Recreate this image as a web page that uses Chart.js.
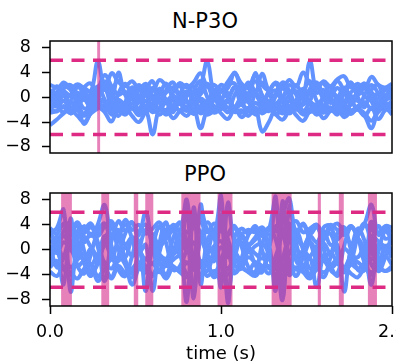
<!DOCTYPE html>
<html>
<head>
<meta charset="utf-8">
<script src="https://cdn.jsdelivr.net/npm/chart.js@4.4.0/dist/chart.umd.min.js"></script>
<style>
    body { margin: 0; width: 396px; height: 362px; overflow: hidden; background: #fff; position: relative; font-family: "DejaVu Sans", sans-serif; }
    canvas { position: absolute; left: 0; }
    #topo { top: 0; }
    #baixo { top: 160px; }
    .titulo { position: absolute; left: 105px; width: 200px; text-align: center; font-size: 21px; line-height: 21px; color: #000; }
</style>
</head>
<body>
<div class="titulo" style="top:11px">N-P3O</div>
<canvas id="topo" width="396" height="160"></canvas>
<div class="titulo" style="top:164px">PPO</div>
<canvas id="baixo" width="396" height="210"></canvas>
<script>
const tempos = [0, 0.04, 0.08, 0.12, 0.16, 0.2, 0.24, 0.28, 0.32, 0.36, 0.4,
    0.44, 0.48, 0.52, 0.56, 0.6, 0.64, 0.68, 0.72, 0.76, 0.8,
    0.84, 0.88, 0.92, 0.96, 1, 1.04, 1.08, 1.12, 1.16, 1.2,
    1.24, 1.28, 1.32, 1.36, 1.4, 1.44, 1.48, 1.52, 1.56, 1.6,
    1.64, 1.68, 1.72, 1.76, 1.8, 1.84, 1.88, 1.92, 1.96, 2];

const ticksX = [0, 1, 2];
const ticksY = [-8, -4, 0, 4, 8];
const limite = 6;
const intervaloX = [0, 2];

// N-P3O
const np3o1 = [2.0, 1.6, 1.9, 1.4, 2.1, 1.5, 1.0, 5.8, 1.2, 3.9, 2.5,
    1.8, 2.6, 1.4, 2.2, 1.0, 2.8, 1.9, 1.2, 2.3, 1.6,
    2.4, 3.9, 1.8, 2.0, 1.1, 2.5, 3.8, 2.2, 1.5, 3.6,
    2.0, 1.2, 2.4, 1.6, 2.8, 1.7, 4.0, 2.2, 1.4, 2.6,
    1.8, 2.9, 3.4, 1.6, 2.2, 1.4, 3.3, 2.0, 1.6, 2.2];
const np3o2 = [1.2, 0.6, 1.0, 0.2, 0.8, -0.2, 0.5, 1.4, 3.6, 1.8, 0.4,
    0.9, -0.3, 1.1, 0.3, 1.5, -0.2, 0.8, 1.6, 0.2, 1.0,
    0.4, 1.8, 5.8, 0.6, 1.3, 0.0, 1.6, 0.8, 2.2, 0.4,
    3.8, 1.0, 0.2, 1.4, 0.6, 2.0, 0.3, 5.8, 0.8, 1.2,
    0.2, 1.5, 0.6, 2.3, 0.4, 1.6, 0.8, -0.2, 1.2, 1.5];
const np3o3 = [0.5, 0.0, -0.6, 0.4, -0.2, 0.9, -0.4, 0.6, 2.0, -0.5, 4.0,
    0.5, 1.2, -0.8, 0.6, -0.3, 1.0, -0.5, 0.3, -0.9, 0.7,
    -0.2, 0.5, 1.8, -0.4, 0.9, 1.5, 4.0, 1.2, 0.0, 0.8,
    -0.6, 0.5, 1.1, -0.5, 0.3, 1.0, -0.2, 0.6, 2.2, -0.3,
    0.9, 0.1, -0.6, 0.8, 1.6, 0.2, -0.5, 0.7, 0.0, 0.8];
const np3o4 = [-0.3, -0.8, 0.2, -1.0, -0.4, 0.3, -1.2, -0.2, -0.9, -2.5, -0.4,
    -1.1, 0.2, -0.6, -1.4, 0.0, -0.9, -0.3, -1.3, 0.1, -0.7,
    -1.2, -0.2, -0.8, 0.4, -1.0, -0.5, -1.5, 0.0, -0.7, 3.9,
    0.2, -0.6, -1.0, -0.1, -1.4, -0.4, 0.3, -0.8, -1.2, -0.2,
    -0.9, -0.3, -1.1, 0.2, -0.6, -1.0, -0.1, -0.8, -0.4, 0.0];
const np3o5 = [-1.0, -1.5, -0.6, -1.8, -1.2, -0.4, -1.6, -0.8, -2.0, -1.2, -0.5,
    -2.2, -1.0, -1.8, -0.6, -1.4, -2.0, -0.8, -1.6, -1.1, -2.2,
    -0.9, -1.5, -0.6, -2.0, -1.3, -0.7, -1.8, -1.2, -2.3, -0.9,
    -1.6, -1.0, -2.0, -1.4, -0.6, -1.8, -1.2, -0.7, -1.9, -1.3,
    -0.6, -1.7, -1.1, -2.1, -1.4, -0.8, -1.9, -1.0, -1.6, -0.8];
const np3o6 = [-1.8, -2.3, -1.4, -2.6, -1.9, -3.0, -2.0, -1.2, -2.4, -3.9, -1.6,
    -2.5, -1.8, -2.9, -1.5, -2.4, -1.9, -2.8, -1.6, -2.2, -3.0,
    -1.8, -5.0, -2.0, -1.4, -2.6, -3.5, -1.9, -2.5, -1.7, -2.8,
    -2.0, -1.5, -2.7, -2.1, -1.6, -2.9, -3.8, -2.2, -1.6, -2.5,
    -1.9, -2.8, -1.4, -2.4, -2.0, -3.0, -1.7, -3.5, -2.1, -1.5];
const np3o7 = [-2.5, -2.2, -1.6, -2.6, -2.0, -4.3, -2.4, -1.6, -2.2, -1.4, -2.0,
    -2.8, -1.6, -2.4, -2.0, -6.0, -1.8, -2.6, -1.4, -2.2, -1.8,
    -2.7, -2.0, -1.4, -2.5, -1.9, -1.6, -2.4, -2.1, -3.0, -1.7,
    -5.5, -4.0, -1.9, -2.6, -2.0, -1.6, -2.6, -1.9, -2.8, -2.0,
    -1.6, -2.4, -2.0, -2.7, -1.8, -3.0, -5.0, -2.2, -1.7, -2.8];
const np3o8 = [-4.5, -3.6, -2.6, -2.0, -3.0, -4.0, -2.6, -1.8, -1.4, -2.8, -2.2,
    -1.6, -3.0, -4.0, -2.4, -1.8, -2.8, -2.0, -3.4, -2.2, -1.5,
    -2.6, -2.0, -2.8, -2.2, -1.6, -2.4, -1.8, -3.2, -2.2, -1.7,
    -2.6, -2.0, -2.8, -3.6, -2.2, -1.8, -2.8, -2.4, -2.0, -3.4,
    -2.2, -1.7, -3.2, -2.3, -1.9, -2.6, -3.8, -2.2, -1.8, -2.4];
const np3o9 = [0.0, 1.8, 0.6, -1.6, -0.4, 1.6, 2.2, 0.2, -2.2, 0.8, 2.6,
    0.4, -1.8, -0.6, 1.8, 0.2, -2.0, 1.2, 2.4, -0.4, -1.8,
    1.0, 2.6, 0.0, -2.2, -0.8, 1.8, 2.2, -0.6, -2.0, 0.6,
    2.4, 0.8, -1.6, -0.2, 2.0, 0.4, -2.2, -0.6, 1.8, 2.2,
    0.2, -2.0, 0.8, 2.4, 0.0, -1.6, 1.2, 2.0, -0.8, -1.2];
const np3o10 = [-2.0, -0.4, 1.4, 2.0, 0.2, -1.8, -1.0, 0.8, 2.6, 1.0, -1.4,
    -2.0, 0.4, 2.0, 0.6, -1.6, 0.4, 2.2, -0.4, -2.2, 0.2,
    1.8, -0.6, -2.4, -0.2, 2.0, 0.6, -1.8, 0.2, 2.4, 0.8,
    -1.4, -2.2, 0.6, 2.2, 0.0, -2.0, -0.8, 1.4, 2.4, 0.0,
    -2.2, -0.4, 1.6, -0.2, -2.0, 0.4, 2.0, 0.6, -1.4, -0.6];
const np3o11 = [1.0, -1.2, -2.4, -0.6, 1.6, 0.4, -2.0, -0.2, 1.4, -1.6, -3.0,
    -0.8, 1.6, 0.2, -2.2, -1.0, 1.4, -0.6, -2.4, 0.6, 2.0,
    -0.4, -2.6, -1.0, 1.2, -0.2, -2.4, 0.4, 1.8, -0.6, -2.6,
    -1.2, 1.0, 2.2, -0.4, -2.6, -0.8, 1.4, -1.0, -2.6, 0.2,
    1.6, -0.8, -2.6, -1.0, 1.0, 2.2, -0.6, -2.4, 0.2, 1.2];
const np3o12 = [-0.8, 0.8, 2.4, 1.2, -1.0, -2.6, -0.6, 1.8, -0.4, -2.4, 0.6,
    2.2, 0.0, -2.0, 1.0, 2.6, -0.8, -2.2, 0.8, 1.8, -0.6,
    -2.0, 0.8, 2.2, 0.2, -1.8, -0.4, 1.6, -1.2, 0.6, 2.6,
    0.4, -1.8, 0.2, 2.4, 1.0, -1.4, 0.8, 2.6, -0.6, -1.8,
    0.6, 2.6, 1.0, -1.2, 0.6, 2.2, -0.2, -1.6, 1.4, -0.2];

// PPO
const ppo1 = [2.8, 3.5, 6.4, -6.7, 1.5, 3.8, 2.2, 4.1, 7.2, 2.0, 4.6,
    3.0, 4.4, 2.4, 6.0, 1.8, 3.6, 2.2, 4.0, 3.0, 8.0,
    -2.0, 6.5, 3.2, 2.4, 8.7, -8.5, 2.0, 3.4, 2.6, 3.8,
    2.2, 3.2, 8.5, -7.5, 7.0, 2.8, 4.2, 2.5, 3.6, 2.0,
    4.0, 3.2, 2.4, 3.8, 2.6, 4.2, 7.2, 2.4, 3.5, 2.8];
const ppo2 = [1.5, 0.8, 2.2, 1.0, 3.0, 1.2, 2.6, 0.4, -5.0, 1.4, 3.2,
    0.8, 2.0, 1.2, -6.6, 2.4, 0.6, 1.8, 3.0, 1.0, -8.3,
    6.8, -5.5, 1.6, 2.6, -6.0, 7.5, 1.2, 2.0, 0.8, 1.6,
    2.8, 1.0, -6.5, 7.8, -4.0, 1.6, 0.6, 2.2, 1.2, 3.0,
    0.8, 1.6, 2.6, 1.0, 1.8, 0.4, 2.2, 1.4, 0.6, 1.2];
const ppo3 = [0.5, -0.5, 1.2, 0.0, -1.0, 2.0, 0.4, -0.8, 1.0, 4.2, 0.0,
    -1.2, 1.5, -0.4, 0.8, -6.6, 1.0, 4.4, -0.6, 0.8, 1.5,
    -6.8, 2.0, -0.5, 0.6, 1.4, -0.8, 0.2, 1.2, -0.4, 0.6,
    1.0, -0.6, -3.0, 5.0, 8.2, 0.4, -0.8, 1.2, 0.0, 1.0,
    -0.5, 0.8, -6.7, 0.2, 1.4, -0.6, -5.6, 0.8, -0.2, 0.4];
const ppo4 = [-0.2, 0.6, -1.2, 0.4, -0.6, -1.5, 0.2, -2.0, 0.8, -0.8, -1.8,
    0.4, -1.0, -0.2, -1.6, 0.6, -0.8, -1.4, 0.2, -0.6, 6.8,
    -7.8, 7.2, -0.8, -1.6, 0.4, -1.2, -0.4, -1.8, 0.2, -0.6,
    -1.4, 0.0, 7.5, -6.0, 2.0, -1.2, -0.2, -1.0, 0.6, -1.4,
    -0.4, -1.8, 0.2, -0.8, -1.2, 0.4, -0.6, -1.6, 0.0, -1.2];
const ppo5 = [-1.5, -2.2, -0.8, -2.8, -1.6, -0.6, -2.4, -1.0, -2.0, -3.0, -1.2,
    -2.4, -5.6, -2.8, -1.4, -2.2, -0.8, -2.6, -1.6, -1.0, -2.2,
    -1.4, -2.8, -1.0, -1.8, 5.5, -7.0, -1.6, -2.4, -1.2, -2.0,
    -2.8, -1.4, -2.0, -8.0, 4.0, -1.8, -2.6, -1.2, -6.0, -1.0,
    -2.4, -1.6, -2.8, -1.2, -2.0, -2.6, -1.4, -2.2, -1.0, -2.4];
const ppo6 = [-2.8, -1.8, -5.5, 5.0, -2.6, -1.8, -2.4, -5.0, -3.0, -1.6, -2.8,
    -3.6, -3.0, -2.0, -3.0, -2.2, -3.6, -1.8, -2.6, -3.4, -2.0,
    -3.0, -1.8, -2.6, -3.8, -2.2, -3.0, -1.6, -2.8, -3.4, -2.0,
    -2.6, -3.8, -2.2, -3.0, -2.0, -3.2, -2.4, -4.0, -2.8, -1.8,
    -3.0, -2.2, -3.6, -2.4, -3.0, -2.0, 4.5, -2.6, -3.4, -3.0];
const ppo7 = [-3.5, -4.2, -2.8, -3.6, -4.6, -3.0, -2.4, -4.2, -3.2, -4.6, -2.6,
    -3.8, -4.4, -3.0, -2.6, -4.0, -3.4, -4.6, -2.8, -3.6, -4.4,
    -3.0, -2.6, -4.2, -3.4, -4.8, -3.0, -3.8, -2.8, -3.6, -4.2,
    -3.0, -2.6, -4.4, -3.2, -4.0, -2.8, -3.6, -4.6, -3.2, -3.6,
    -3.0, -4.2, -2.8, -3.8, -4.4, -3.0, -3.6, -2.8, -3.4, -2.6];
const ppo8 = [3.5, 2.6, 4.2, 3.0, 4.4, 2.8, 3.6, 2.2, 3.8, 4.6, 2.4,
    4.8, 3.2, 4.0, 2.6, 3.4, 4.4, 2.8, 3.6, 4.2, 2.8,
    3.6, 4.4, 2.8, 4.2, 3.0, 2.4, 3.4, 2.6, 3.2, 2.8,
    3.6, 2.4, 3.0, 2.6, 3.8, 4.6, 2.8, 3.4, 4.0, 2.6,
    3.4, 4.2, 3.0, 3.8, 2.4, 4.0, 3.2, 2.6, 3.8, 3.6];
const ppo9 = [-1.0, 2.4, 4.0, 1.0, -2.6, -3.8, -0.6, 3.0, 4.2, 0.6, -3.2,
    -4.2, -1.0, 2.8, 4.0, 0.4, -3.4, -2.0, 1.8, 4.4, 1.2,
    -2.6, -4.4, -0.8, 3.2, 4.0, 0.2, -3.6, -1.4, 2.4, 3.2,
    0.0, -3.0, -1.0, 2.6, 4.2, 1.0, -3.4, -4.0, -0.4, 3.6,
    3.8, 0.4, -3.2, -2.0, 2.2, 4.2, 0.8, -3.4, -1.2, 2.6];
const ppo10 = [3.2, 0.2, -3.0, -4.0, -0.8, 2.8, 4.2, 1.2, -2.4, -4.4, -1.0,
    2.6, 4.4, 0.8, -3.0, -4.2, -0.4, 3.2, 3.6, -0.6, -3.8,
    -2.8, 1.4, 4.4, 2.0, -2.2, -4.0, -1.2, 2.2, 0.6, -2.4,
    -3.6, 0.4, 3.8, 2.6, -1.8, -4.2, -1.0, 2.8, 4.0, 0.2,
    -3.2, -3.8, 0.6, 3.6, 2.0, -2.2, -4.0, -0.4, 3.0, 1.6];
const ppo11 = [0.8, -2.8, -1.2, 2.6, 3.8, -0.2, -3.6, -2.2, 1.6, 3.4, 2.2,
    -1.6, -3.8, -0.2, 3.2, 2.4, -1.8, -4.0, -0.6, 2.6, -0.4,
    1.2, -2.0, -3.4, 0.2, 3.6, 1.8, -2.4, -3.0, 0.4, 2.0,
    3.4, -0.6, -4.0, -1.4, 2.2, 3.2, 0.0, -3.0, -2.2, 1.6,
    2.6, -0.8, -3.6, -0.2, 3.4, 1.4, -2.4, -3.2, 0.6, -0.6];
const ppo12 = [-2.4, 1.2, 3.0, 4.4, 1.4, -2.2, -4.2, -1.6, 2.2, -1.4, 1.8,
    4.0, 1.8, -2.4, -3.6, 0.4, 3.8, 1.0, -3.2, -2.6, 0.2,
    3.8, 2.8, -1.4, -4.4, -2.0, 2.4, 3.8, 0.6, -2.8, -3.6,
    0.8, 3.6, 1.6, -2.6, -0.6, 2.0, 4.0, 1.4, -2.0, -4.4,
    -1.2, 2.6, 3.6, 0.0, -3.2, -3.2, 1.4, 3.8, 1.8, 2.2];

// faixas de violacao (inicio, fim) em segundos
const faixasNp3o = [[0.276, 0.293]];
const faixasPpo = [[0.065, 0.128], [0.30, 0.346], [0.49, 0.516], [0.557, 0.604],
    [0.768, 0.88], [0.98, 1.067], [1.296, 1.413], [1.566, 1.584],
    [1.689, 1.718], [1.859, 1.912]];

const azul = 'rgb(98, 146, 255)';
const rosa = 'rgb(222, 42, 130)';
const rosaFaixa = 'rgba(215, 45, 140, 0.6)';
const fonte = 'DejaVu Sans';

function pluginFaixas(faixas) {
    return {
        id: 'faixas',
        afterDatasetsDraw(chart) {
            const { ctx, chartArea, scales } = chart;
            ctx.save();
            ctx.fillStyle = rosaFaixa;
            faixas.forEach(([ini, fim]) => {
                const x0 = scales.x.getPixelForValue(ini);
                const x1 = scales.x.getPixelForValue(fim);
                ctx.fillRect(x0, chartArea.top, x1 - x0, chartArea.bottom - chartArea.top);
            });
            ctx.strokeStyle = '#000';
            ctx.lineWidth = 1.5;
            ctx.strokeRect(chartArea.left, chartArea.top, chartArea.right - chartArea.left, chartArea.bottom - chartArea.top);
            ctx.restore();
        }
    };
}

function criaGrafico(canvas, series, faixas, comEixoX, padding) {
    const datasets = series.map((valores) => ({
        data: valores.map((v, i) => ({ x: tempos[i], y: v })),
        borderColor: azul,
        borderWidth: 4,
        pointRadius: 0,
        tension: 0.4,
        order: 1,
    }));
    [limite, -limite].forEach((y) => {
        datasets.push({
            data: intervaloX.map((x) => ({ x: x, y: y })),
            borderColor: rosa,
            borderWidth: 3.5,
            borderDash: [13, 8.5],
            borderCapStyle: 'butt',
            pointRadius: 0,
            order: 0,
        });
    });

    const grade = { drawOnChartArea: false, drawTicks: true, tickLength: 8, tickWidth: 1.5, tickColor: '#000' };

    return new Chart(canvas, {
        type: 'line',
        data: { datasets },
        options: {
            responsive: false,
            animation: false,
            devicePixelRatio: 1,
            layout: { padding: padding },
            plugins: { legend: { display: false }, tooltip: { enabled: false } },
            scales: {
                x: {
                    type: 'linear',
                    min: intervaloX[0],
                    max: intervaloX[1],
                    display: comEixoX,
                    afterBuildTicks: (s) => { s.ticks = ticksX.map((v) => ({ value: v })); },
                    afterFit: (s) => {
                        if (comEixoX) s.height = 64;
                        s.paddingLeft = 0;
                        s.paddingRight = 0;
                    },
                    grid: grade,
                    border: { display: false },
                    ticks: { color: '#000', padding: 7.5, maxRotation: 0, font: { family: fonte, size: 17.5 }, callback: (v) => v.toFixed(1) },
                    title: { display: true, text: 'time (s)', color: '#000', font: { family: fonte, size: 18 }, padding: { top: 0, bottom: 5 } },
                },
                y: {
                    min: -9,
                    max: 9.1,
                    afterBuildTicks: (s) => { s.ticks = ticksY.map((v) => ({ value: v })); },
                    afterFit: (s) => {
                        s.width = 50;
                        s.paddingTop = 0;
                        s.paddingBottom = 0;
                    },
                    grid: grade,
                    border: { display: false },
                    ticks: { color: '#000', padding: 11, autoSkip: false, font: { family: fonte, size: 17.5 }, callback: (v) => String(v).replace('-', '\u2212') },
                },
            },
        },
        plugins: [pluginFaixas(faixas)],
    });
}

criaGrafico(document.getElementById('topo'),
    [np3o1, np3o2, np3o3, np3o4, np3o5, np3o6, np3o7, np3o8, np3o9, np3o10, np3o11, np3o12],
    faixasNp3o, false, { top: 41, right: 4, bottom: 7, left: 0 });

criaGrafico(document.getElementById('baixo'),
    [ppo1, ppo2, ppo3, ppo4, ppo5, ppo6, ppo7, ppo8, ppo9, ppo10, ppo11, ppo12],
    faixasPpo, true, { top: 33, right: 4, bottom: 0, left: 0 });
</script>
</body>
</html>
